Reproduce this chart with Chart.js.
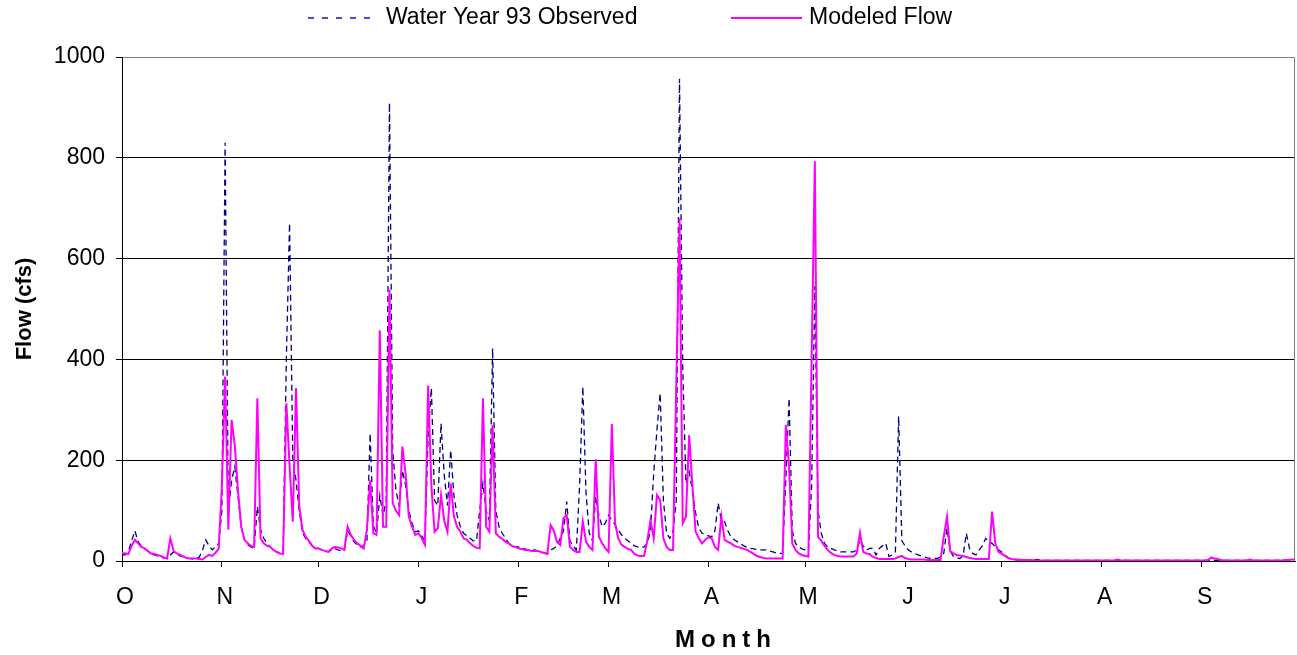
<!DOCTYPE html>
<html>
<head>
<meta charset="utf-8">
<script src="https://cdn.jsdelivr.net/npm/chart.js@4.4.1/dist/chart.umd.min.js"></script>
<style>
  html, body { margin: 0; padding: 0; background: #fff; }
</style>
</head>
<body>
<canvas id="flow" width="1297" height="655"></canvas>
<script>
// Water year runs Oct 1 .. Sep 30, one value per day (365 days)
const monthLetters = ['O','N','D','J','F','M','A','M','J','J','A','S'];
const monthStart = [0, 31, 61, 92, 123, 151, 182, 212, 243, 273, 304, 335];
const seriesNames = ['Water Year 93 Observed', 'Modeled Flow'];

// daily observed flow (cfs), one line per month
const observed = [
  12,12,20,40,60,38,30,25,20,14,12,10,8,6,5,12,18,14,10,8,6,5,4,5,8,22,42,30,22,28,35,
  100,830,95,160,187,128,68,42,32,28,25,108,62,45,35,28,22,18,15,14,400,670,200,160,100,56,45,38,30,26,
  25,22,20,18,22,25,22,20,22,60,50,38,32,28,30,40,253,70,55,130,90,120,909,220,140,110,180,150,100,75,58,
  60,50,40,250,343,120,110,273,170,110,220,130,90,68,55,50,45,40,40,100,154,100,80,422,100,68,55,45,35,30,28,
  28,25,24,22,22,22,20,18,16,15,22,25,30,45,60,118,40,30,22,150,346,134,55,40,128,90,68,75,
  91,81,72,62,52,45,40,35,30,28,26,28,35,60,174,260,333,121,55,45,60,120,957,386,154,177,140,95,65,55,52,
  50,48,60,115,80,78,60,48,42,38,34,30,27,25,24,23,22,22,22,20,18,16,15,15,161,323,60,35,28,24,
  22,20,150,545,100,55,35,28,25,22,20,18,18,18,18,18,22,42,30,22,25,25,12,25,30,35,9,12,18,287,40,
  30,22,18,15,12,10,8,6,5,5,5,8,15,65,20,9,6,5,10,55,25,15,12,22,30,45,38,35,28,22,
  18,12,6,4,3,2,2,2,2,2,2,3,2,1,1,1,1,1,1,1,1,1,1,1,1,1,1,1,1,1,1,
  1,1,1,1,1,1,1,1,1,1,1,1,1,1,1,1,1,1,1,1,1,1,1,1,1,1,1,1,1,1,1,
  1,1,1,1,1,1,1,1,1,1,1,1,1,1,1,1,1,1,1,1,1,1,1,1,1,1,1,1,1,1
];

// daily modeled flow (cfs), one line per month
const modeled = [
  16,15,14,30,42,35,28,25,20,15,14,12,10,7,5,45,20,15,12,9,6,5,5,5,4,3,8,12,10,16,24,
  150,366,62,280,230,140,68,42,35,30,28,323,45,35,30,28,22,18,15,14,313,190,78,343,110,62,48,40,30,25,
  25,22,20,18,24,28,27,25,22,68,52,42,35,30,25,62,160,55,52,458,68,68,538,115,100,91,227,174,88,68,52,
  55,45,32,348,150,58,65,131,80,58,154,88,68,58,45,42,35,30,26,25,323,68,58,270,55,48,44,38,35,30,28,
  25,24,22,22,20,20,20,18,16,14,71,60,38,32,85,91,28,22,18,18,78,38,28,22,202,48,35,25,
  18,272,75,45,32,28,24,22,14,11,10,10,40,81,45,131,121,45,28,22,22,350,680,75,88,250,150,58,45,35,42,
  47,45,28,22,88,42,38,35,30,28,26,24,22,18,14,10,8,6,5,5,5,5,5,5,270,187,35,22,15,12,
  10,9,400,793,48,40,30,22,16,12,10,9,9,9,9,9,15,56,18,15,14,8,6,4,4,4,4,4,5,8,10,
  6,4,3,3,3,3,3,2,2,2,2,2,48,88,20,15,12,11,10,8,6,5,4,4,4,4,4,98,35,18,
  14,10,6,4,3,3,2,2,2,2,1,1,1,1,1,1,1,1,1,1,1,1,1,1,1,1,1,1,1,1,1,
  1,1,1,1,1,3,1,1,1,1,1,1,1,1,1,1,1,1,1,1,1,1,1,1,1,1,1,1,1,1,1,
  1,1,2,7,5,4,2,1,1,1,1,1,1,1,1,3,1,1,1,1,1,1,1,1,1,1,2,2,3,3
];

const FONT = "'Liberation Sans', Arial, Helvetica, sans-serif";
const OBS_COLOR = '#000080';
const MOD_COLOR = '#ff00ff';

const toPoints = (arr) => arr.map((v, i) => ({ x: i, y: v }));

// legend row, plot frame and the spaced-out x title
const decor = {
  id: 'decor',
  afterDraw(chart) {
    const { ctx, chartArea: a } = chart;
    ctx.save();

    ctx.strokeStyle = '#808080';
    ctx.lineWidth = 1;
    ctx.beginPath();
    ctx.moveTo(Math.round(a.right) - 0.5, a.top);
    ctx.lineTo(Math.round(a.right) - 0.5, a.bottom);
    ctx.stroke();

    const legendY = 18;
    const items = [
      { text: seriesNames[0], x0: 308, x1: 377, tx: 386, color: '#1010b0', dash: [6, 8], w: 1.3 },
      { text: seriesNames[1], x0: 731, x1: 802, tx: 809, color: MOD_COLOR, dash: [], w: 2 }
    ];
    items.forEach(it => {
      ctx.strokeStyle = it.color;
      ctx.lineWidth = it.w;
      ctx.setLineDash(it.dash);
      ctx.beginPath();
      ctx.moveTo(it.x0, legendY);
      ctx.lineTo(it.x1, legendY);
      ctx.stroke();
      ctx.setLineDash([]);
      ctx.fillStyle = '#000';
      ctx.font = `23px ${FONT}`;
      ctx.textAlign = 'left';
      ctx.textBaseline = 'middle';
      ctx.fillText(it.text, it.tx, legendY);
    });

    ctx.font = `bold 24px ${FONT}`;
    ctx.letterSpacing = '6px';
    ctx.textAlign = 'center';
    ctx.textBaseline = 'middle';
    ctx.fillStyle = '#000';
    ctx.fillText('Month', 726, 640);
    ctx.restore();
  }
};

new Chart(document.getElementById('flow'), {
  type: 'line',
  data: {
    datasets: [
      {
        label: seriesNames[0],
        data: toPoints(observed),
        borderColor: OBS_COLOR,
        borderWidth: 1.3,
        borderDash: [6, 4],
        pointRadius: 0,
        tension: 0,
        order: 2
      },
      {
        label: seriesNames[1],
        data: toPoints(modeled),
        borderColor: MOD_COLOR,
        borderWidth: 2,
        pointRadius: 0,
        tension: 0,
        order: 1
      }
    ]
  },
  options: {
    responsive: false,
    animation: false,
    devicePixelRatio: 1,
    layout: { padding: { top: 57, right: 2, left: 0, bottom: 0 } },
    plugins: {
      legend: { display: false },
      tooltip: { enabled: false }
    },
    scales: {
      x: {
        type: 'linear',
        min: 0,
        max: observed.length - 1,
        afterBuildTicks: (axis) => { axis.ticks = monthStart.map(v => ({ value: v })); },
        afterFit: (axis) => { axis.height = 94; },
        grid: { drawOnChartArea: false, drawTicks: true, tickLength: 6, color: '#000' },
        border: { color: '#000', width: 1 },
        ticks: {
          autoSkip: false,
          maxRotation: 0,
          padding: 17,
          labelOffset: 3,
          color: '#000',
          font: { family: FONT, size: 23 },
          callback: (v) => monthLetters[monthStart.indexOf(v)] ?? ''
        },
        title: { display: false }
      },
      y: {
        min: 0,
        max: 1000,
        afterFit: (axis) => { axis.width = 122; },
        grid: {
          color: (c) => (c.tick && c.tick.value === 1000 ? '#808080' : '#000'),
          tickColor: '#000',
          tickLength: 6,
          lineWidth: 1
        },
        border: { color: '#000', width: 1 },
        ticks: {
          stepSize: 200,
          padding: 11,
          color: '#000',
          font: { family: FONT, size: 23 },
          callback: (v) => String(v)
        },
        title: {
          display: true,
          text: 'Flow (cfs)',
          color: '#000',
          padding: 12,
          font: { family: FONT, size: 22, weight: 'bold' }
        }
      }
    }
  },
  plugins: [decor]
});
</script>
</body>
</html>
